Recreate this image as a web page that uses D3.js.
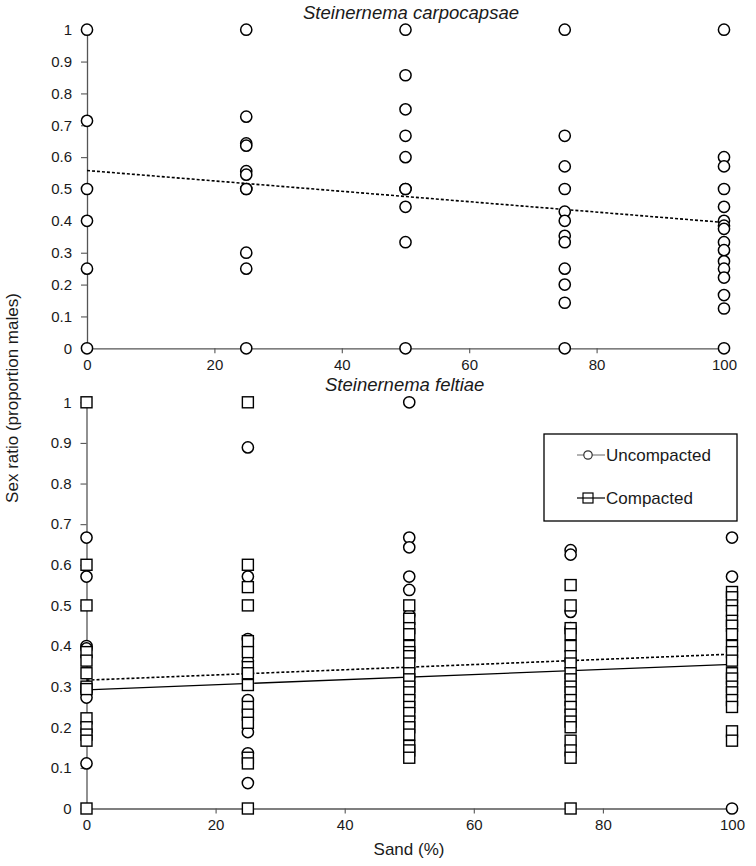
<!DOCTYPE html>
<html>
<head>
<meta charset="utf-8">
<script src="https://cdn.jsdelivr.net/npm/d3@7"></script>
<style>
  html, body { margin: 0; padding: 0; background: #fff; }
  svg { display: block; font-family: "Liberation Sans", Arial, sans-serif; }
</style>
</head>
<body>
<svg id="chart" width="756" height="866"></svg>
<script>
// ---------- data ----------
const sandLevels = [0, 25, 50, 75, 100];
const xTicks = [0, 20, 40, 60, 80, 100];
const yTicks = [0, 0.1, 0.2, 0.3, 0.4, 0.5, 0.6, 0.7, 0.8, 0.9, 1];

// Steinernema carpocapsae (single series, circles), one array per sand level
const carpo0   = [1, 0.714, 0.5, 0.4, 0.25, 0];
const carpo25  = [1, 0.727, 0.643, 0.636, 0.556, 0.545, 0.5, 0.5, 0.3, 0.25, 0];
const carpo50  = [1, 0.857, 0.75, 0.667, 0.6, 0.5, 0.5, 0.444, 0.333, 0];
const carpo75  = [1, 0.667, 0.571, 0.5, 0.429, 0.4, 0.353, 0.333, 0.25, 0.2, 0.143, 0];
const carpo100 = [1, 0.6, 0.571, 0.5, 0.444, 0.4, 0.385, 0.375, 0.333, 0.308, 0.273, 0.25, 0.222, 0.167, 0.125, 0];
const carpoFit = [0.558, 0.395]; // at sand 0 and 100

// Steinernema feltiae, uncompacted (circles)
const feltU0   = [0.667, 0.571, 0.4, 0.394, 0.286, 0.273, 0.111];
const feltU25  = [0.889, 0.571, 0.417, 0.364, 0.267, 0.188, 0.136, 0.0625];
const feltU50  = [1, 0.667, 0.643, 0.571, 0.538, 0.476];
const feltU75  = [0.636, 0.625, 0.484, 0.444, 0.364];
const feltU100 = [0.667, 0.571, 0];
const feltUFit = [0.316, 0.38];

// Steinernema feltiae, compacted (squares)
const feltC0   = [1, 0.6, 0.5, 0.385, 0.364, 0.333, 0.3, 0.294, 0.222, 0.2, 0.182, 0.167, 0];
const feltC25  = [1, 0.6, 0.545, 0.5, 0.412, 0.385, 0.348, 0.333, 0.304, 0.25, 0.231, 0.211, 0.125, 0.111, 0];
const feltC50  = [0.5, 0.467, 0.444, 0.429, 0.4, 0.385, 0.375, 0.357, 0.333, 0.318, 0.3, 0.286, 0.267, 0.25, 0.235, 0.214, 0.2, 0.182, 0.154, 0.143, 0.125];
const feltC75  = [0.55, 0.5, 0.444, 0.429, 0.4, 0.375, 0.357, 0.333, 0.318, 0.3, 0.286, 0.267, 0.25, 0.231, 0.214, 0.2, 0.167, 0.143, 0.125, 0];
const feltC100 = [0.533, 0.52, 0.5, 0.486, 0.462, 0.45, 0.429, 0.4, 0.385, 0.364, 0.333, 0.32, 0.3, 0.286, 0.267, 0.25, 0.19, 0.167];
const feltCFit = [0.292, 0.355];

const fitX = [0, 100];
const titles = ["Steinernema carpocapsae", "Steinernema feltiae"];
const legendLabels = ["Uncompacted", "Compacted"];

// ---------- helpers ----------
function flatten(groups) {
  const out = [];
  groups.forEach((vals, i) => vals.forEach(v => out.push({ x: sandLevels[i], y: v })));
  return out;
}
const carpoPts = flatten([carpo0, carpo25, carpo50, carpo75, carpo100]);
const feltUPts = flatten([feltU0, feltU25, feltU50, feltU75, feltU100]);
const feltCPts = flatten([feltC0, feltC25, feltC50, feltC75, feltC100]);

const svg = d3.select("#chart");
const axisColor = "#555";
const textColor = "#1a1a1a";

function drawAxes(g, x, y) {
  const ax = g.append("g")
    .attr("transform", `translate(0,${y(0)})`)
    .call(d3.axisBottom(x).tickValues(xTicks).tickFormat(d3.format("d")).tickSize(5).tickSizeOuter(0).tickPadding(6));
  const ay = g.append("g")
    .attr("transform", `translate(${x(0)},0)`)
    .call(d3.axisLeft(y).tickValues(yTicks).tickFormat(d => d === 0 ? "0" : d === 1 ? "1" : d3.format(".1f")(d)).tickSize(6).tickSizeOuter(0).tickPadding(9));
  [ax, ay].forEach(a => {
    a.select(".domain").attr("stroke", axisColor).attr("stroke-width", 1.3);
    a.selectAll(".tick line").attr("stroke", axisColor).attr("stroke-width", 1.1);
    a.selectAll(".tick text").attr("fill", textColor).style("font-size", "15px")
      .style("font-family", "'Liberation Sans', Arial, sans-serif");
  });
}

function circles(g, pts, x, y, r) {
  g.append("g").selectAll("circle").data(pts).join("circle")
    .attr("cx", d => x(d.x)).attr("cy", d => y(d.y)).attr("r", r)
    .attr("fill", "#fff").attr("stroke", "#000").attr("stroke-width", 1.5);
}
function squares(g, pts, x, y, s) {
  g.append("g").selectAll("rect").data(pts).join("rect")
    .attr("x", d => x(d.x) - s / 2).attr("y", d => y(d.y) - s / 2)
    .attr("width", s).attr("height", s)
    .attr("fill", "#fff").attr("stroke", "#000").attr("stroke-width", 1.4);
}
function fitLine(g, vals, x, y, dashed) {
  const line = d3.line().x(d => x(d[0])).y(d => y(d[1]));
  g.append("path").datum(fitX.map((fx, i) => [fx, vals[i]]))
    .attr("d", line).attr("fill", "none").attr("stroke", "#000")
    .attr("stroke-width", dashed ? 1.6 : 1.3)
    .attr("stroke-dasharray", dashed ? "3,2" : null);
}

// ---------- top panel ----------
const xTop = d3.scaleLinear().domain([0, 100]).range([87, 724]);
const yTop = d3.scaleLinear().domain([0, 1]).range([348.3, 29.7]);
const gTop = svg.append("g");
drawAxes(gTop, xTop, yTop);
fitLine(gTop, carpoFit, xTop, yTop, true);
circles(gTop, carpoPts, xTop, yTop, 5.6);
gTop.append("text").attr("x", 303).attr("y", 18.5)
  .style("font-size", "18.5px").style("font-style", "italic").attr("fill", textColor)
  .text(titles[0]);

// ---------- bottom panel ----------
const xBot = d3.scaleLinear().domain([0, 100]).range([86.5, 732]);
const yBot = d3.scaleLinear().domain([0, 1]).range([808.5, 402.3]);
const gBot = svg.append("g");
drawAxes(gBot, xBot, yBot);
fitLine(gBot, feltUFit, xBot, yBot, true);
fitLine(gBot, feltCFit, xBot, yBot, false);
circles(gBot, feltUPts, xBot, yBot, 5.6);
squares(gBot, feltCPts, xBot, yBot, 11);
gBot.append("text").attr("x", 325).attr("y", 391)
  .style("font-size", "18.5px").style("font-style", "italic").attr("fill", textColor)
  .text(titles[1]);

// ---------- axis titles ----------
svg.append("text")
  .attr("transform", "translate(18,398) rotate(-90)")
  .attr("text-anchor", "middle")
  .style("font-size", "17px").attr("fill", textColor)
  .text("Sex ratio (proportion males)");
svg.append("text")
  .attr("x", 409).attr("y", 855)
  .attr("text-anchor", "middle")
  .style("font-size", "17px").attr("fill", textColor)
  .text("Sand (%)");

// ---------- legend ----------
const lg = svg.append("g");
lg.append("rect").attr("x", 544).attr("y", 434).attr("width", 193).attr("height", 87)
  .attr("fill", "#fff").attr("stroke", "#000").attr("stroke-width", 1.3);
const legendY = [455, 498];
lg.append("line").attr("x1", 577).attr("x2", 605).attr("y1", legendY[0]).attr("y2", legendY[0])
  .attr("stroke", "#666").attr("stroke-width", 1);
lg.append("circle").attr("cx", 588).attr("cy", legendY[0]).attr("r", 4.2)
  .attr("fill", "#fff").attr("stroke", "#333").attr("stroke-width", 1.2);
lg.append("line").attr("x1", 577).attr("x2", 605).attr("y1", legendY[1]).attr("y2", legendY[1])
  .attr("stroke", "#000").attr("stroke-width", 1.2);
lg.append("rect").attr("x", 583).attr("y", legendY[1] - 5).attr("width", 10).attr("height", 10)
  .attr("fill", "none").attr("stroke", "#000").attr("stroke-width", 1.2);
legendLabels.forEach((t, i) => {
  lg.append("text").attr("x", 606).attr("y", legendY[i]).attr("dy", "0.35em")
    .style("font-size", "17px").attr("fill", textColor).text(t);
});
</script>
</body>
</html>
